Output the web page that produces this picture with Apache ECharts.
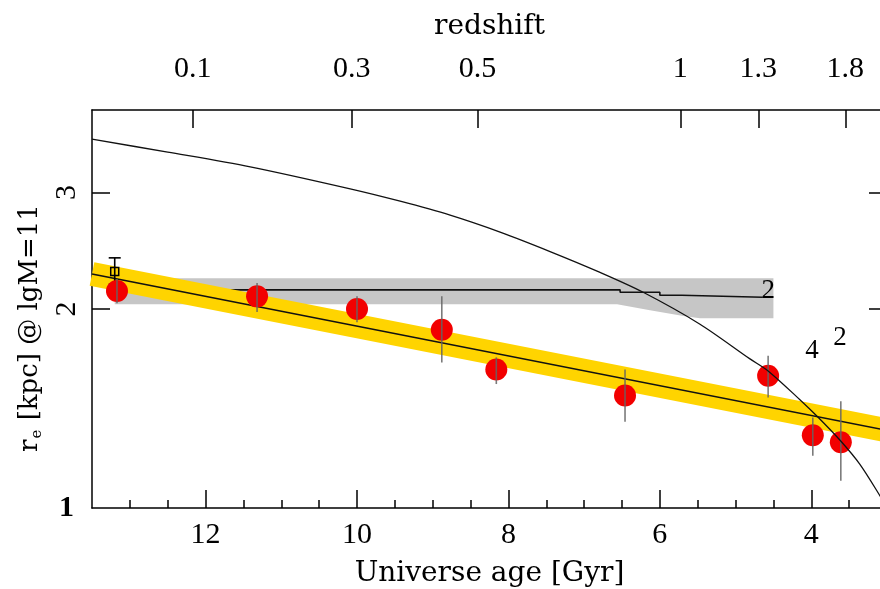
<!DOCTYPE html>
<html>
<head>
<meta charset="utf-8">
<script src="https://cdn.jsdelivr.net/npm/echarts@6/dist/echarts.min.js"></script>
<style>
  html, body { margin: 0; padding: 0; background: #fff; }
  #chart { width: 880px; height: 589px; }
</style>
</head>
<body>
<div id="chart"></div>
<script>
// ---- axis ranges and ticks ----
const AGE_MIN = 3.0, AGE_MAX = 13.5;       // Universe age [Gyr], drawn reversed
const RE_MIN = 1.0, RE_MAX = 4.0;          // r_e [kpc], logarithmic
const ageMajorTicks = [4, 6, 8, 10, 12];
const ageMinorTicks = [3.5, 4.5, 5, 5.5, 6.5, 7, 7.5, 8.5, 9, 9.5, 10.5, 11, 11.5, 12.5, 13];
const reTicks = [2, 3];
const redshiftLabels = ['0.1', '0.3', '0.5', '1', '1.3', '1.8'];
const redshiftAges = [12.17, 10.07, 8.41, 5.73, 4.70, 3.55];

// ---- measured sizes (red points) ----
const pointAge  = [13.17, 11.32, 10.0, 8.88, 8.16, 6.46, 4.57, 3.98, 3.61];
const pointRe   = [2.13, 2.09, 2.00, 1.86, 1.62, 1.48, 1.585, 1.288, 1.257];
const pointReHi = [2.22, 2.19, 2.09, 2.09, 1.69, 1.62, 1.70, 1.37, 1.45];
const pointReLo = [2.04, 1.98, 1.91, 1.66, 1.54, 1.35, 1.47, 1.20, 1.10];

// ---- local reference point (open square) ----
const localAge = [13.2];
const localRe = [2.28];
const localReHi = [2.39];
const localReLo = [2.18];

// ---- best-fit relation and its band ----
const fitAge = [13.5, 3.0];
const fitRe = [2.26, 1.31];

// ---- grey band and the stepped line inside it ----
const bandAge    = [13.2, 6.565, 6.13, 5.69, 5.47, 4.50];
const bandTop    = [2.226, 2.226, 2.226, 2.226, 2.226, 2.226];
const bandBottom = [2.034, 2.034, 1.992, 1.951, 1.937, 1.937];
const stepAge = [11.81, 6.525, 6.525, 6.0, 6.0, 5.71, 5.71, 4.64];
const stepRe  = [2.138, 2.138, 2.12, 2.12, 2.098, 2.098, 2.084, 2.084];

// ---- model curve ----
const curveAge = [13.5, 12.5, 11.41, 10.09, 9.43, 8.77, 8.11, 7.45, 6.79, 6.22, 5.47, 4.81, 4.57, 4.15, 3.92, 3.62, 3.36, 3.09, 3.0];
const curveRe  = [3.613, 3.454, 3.281, 3.039, 2.911, 2.773, 2.614, 2.443, 2.272, 2.120, 1.897, 1.681, 1.612, 1.458, 1.375, 1.266, 1.165, 1.042, 1.0];

// ---- small text labels inside the plot ----
const noteAge  = [4.57, 3.99, 3.62];
const noteRe   = [2.13, 1.73, 1.81];
const noteText = ['2', '4', '2'];

const LOG = Math.log10;
const FONT_NUM = 'Liberation Serif';
const FONT_TITLE = 'DejaVu Serif';
const BLACK = '#000';
const lineStyle = { color: BLACK, width: 1.5 };

const chart = echarts.init(document.getElementById('chart'), null, { renderer: 'canvas' });

const xBase = { type: 'value', min: AGE_MIN, max: AGE_MAX, inverse: true, splitLine: { show: false } };
const yBase = { type: 'value', min: LOG(RE_MIN), max: LOG(RE_MAX), splitLine: { show: false } };
const yTickVals = reTicks.map(LOG);

const option = {
  animation: false,
  backgroundColor: '#fff',
  // the right-hand frame sits just past the canvas edge
  grid: { left: 92, top: 110, right: -7, bottom: 81, containLabel: false, outerBoundsMode: 'none' },
  xAxis: [
    Object.assign({}, xBase, {
      position: 'bottom',
      axisLine: { show: true, onZero: false, lineStyle },
      axisTick: { show: true, inside: true, length: 18, lineStyle, customValues: ageMajorTicks },
      axisLabel: { show: true, customValues: ageMajorTicks, margin: 12, color: BLACK, fontFamily: FONT_NUM, fontSize: 30 },
      name: 'Universe age [Gyr]', nameLocation: 'middle', nameGap: 52,
      nameTextStyle: { fontFamily: FONT_TITLE, fontSize: 28, color: BLACK }
    }),
    Object.assign({}, xBase, {
      position: 'bottom',
      axisLine: { show: false, onZero: false },
      axisTick: { show: true, inside: true, length: 8, lineStyle, customValues: ageMinorTicks },
      axisLabel: { show: false }
    }),
    Object.assign({}, xBase, {
      position: 'top',
      axisLine: { show: true, onZero: false, lineStyle },
      axisTick: { show: true, inside: true, length: 18, lineStyle, customValues: redshiftAges },
      axisLabel: {
        show: true, customValues: redshiftAges, margin: 26, color: BLACK, fontFamily: FONT_NUM, fontSize: 30,
        formatter: v => redshiftLabels[redshiftAges.indexOf(v)]
      },
      name: 'redshift', nameLocation: 'middle', nameGap: 69,
      nameTextStyle: { fontFamily: FONT_TITLE, fontSize: 28, color: BLACK }
    })
  ],
  yAxis: [
    Object.assign({}, yBase, {
      position: 'left',
      axisLine: { show: true, onZero: false, lineStyle },
      axisTick: { show: true, inside: true, length: 18, lineStyle, customValues: yTickVals },
      axisLabel: {
        show: true, customValues: yTickVals, rotate: 90, margin: 10, color: BLACK,
        fontFamily: FONT_NUM, fontSize: 30,
        formatter: v => String(Math.round(Math.pow(10, v)))
      }
    }),
    Object.assign({}, yBase, {
      position: 'left',
      axisLine: { show: false, onZero: false },
      axisTick: { show: false },
      axisLabel: {
        show: true, customValues: [LOG(RE_MIN)], margin: 18, color: BLACK,
        fontFamily: FONT_NUM, fontSize: 30, fontWeight: 'bold',
        formatter: v => String(Math.round(Math.pow(10, v)))
      }
    }),
    Object.assign({}, yBase, {
      position: 'right',
      axisLine: { show: true, onZero: false, lineStyle },
      axisTick: { show: true, inside: true, length: 18, lineStyle, customValues: yTickVals },
      axisLabel: { show: false }
    })
  ],
  graphic: [{
    type: 'text',
    x: 30, y: 328,
    rotation: Math.PI / 2,
    style: {
      text: '{a|r}{b|e}{a| [kpc] @ lgM=11}',
      align: 'center', verticalAlign: 'middle',
      rich: {
        a: { fontFamily: FONT_TITLE, fontSize: 26, fill: BLACK, lineHeight: 30 },
        b: { fontFamily: FONT_TITLE, fontSize: 15, fill: BLACK, lineHeight: 30, verticalAlign: 'bottom', padding: [0, 1, 0, 1] }
      }
    }
  }],
  series: [
    // grey band
    {
      type: 'custom', xAxisIndex: 0, yAxisIndex: 0, z: 1, silent: true,
      data: bandAge.map((a, i) => [a, LOG(bandBottom[i]), LOG(bandTop[i])]),
      encode: { x: 0, y: [1, 2] },
      renderItem(params, api) {
        if (params.dataIndex !== 0) return null;
        const pts = [];
        bandAge.forEach((a, i) => pts.push(api.coord([a, LOG(bandTop[i])])));
        for (let i = bandAge.length - 1; i >= 0; i--) pts.push(api.coord([bandAge[i], LOG(bandBottom[i])]));
        return { type: 'polygon', shape: { points: pts }, style: { fill: '#c6c6c6' } };
      }
    },
    // stepped line inside the grey band
    {
      type: 'line', xAxisIndex: 0, yAxisIndex: 0, z: 2, symbol: 'none', silent: true,
      data: stepAge.map((a, i) => [a, LOG(stepRe[i])]),
      lineStyle: { color: '#111', width: 1.6 }
    },
    // yellow band around the fit
    {
      type: 'line', xAxisIndex: 0, yAxisIndex: 0, z: 3, symbol: 'none', silent: true,
      data: fitAge.map((a, i) => [a, LOG(fitRe[i])]),
      lineStyle: { color: '#ffd400', width: 24, cap: 'butt' }
    },
    // fit line
    {
      type: 'line', xAxisIndex: 0, yAxisIndex: 0, z: 4, symbol: 'none', silent: true,
      data: fitAge.map((a, i) => [a, LOG(fitRe[i])]),
      lineStyle: { color: '#111', width: 1.5 }
    },
    // local point error bar (with caps)
    {
      type: 'custom', xAxisIndex: 0, yAxisIndex: 0, z: 5, silent: true,
      data: localAge.map((a, i) => [a, LOG(localReLo[i]), LOG(localReHi[i])]),
      encode: { x: 0, y: [1, 2] },
      renderItem(params, api) {
        const hi = api.coord([api.value(0), api.value(2)]);
        const lo = api.coord([api.value(0), api.value(1)]);
        const st = { stroke: BLACK, lineWidth: 1.6 };
        return {
          type: 'group', children: [
            { type: 'line', shape: { x1: hi[0], y1: hi[1], x2: lo[0], y2: lo[1] }, style: st },
            { type: 'line', shape: { x1: hi[0] - 6, y1: hi[1], x2: hi[0] + 6, y2: hi[1] }, style: st },
            { type: 'line', shape: { x1: lo[0] - 6, y1: lo[1], x2: lo[0] + 6, y2: lo[1] }, style: st }
          ]
        };
      }
    },
    // local point (open square)
    {
      type: 'scatter', xAxisIndex: 0, yAxisIndex: 0, z: 6, silent: true,
      symbol: 'rect', symbolSize: 8,
      data: localAge.map((a, i) => [a, LOG(localRe[i])]),
      itemStyle: { color: 'rgba(0,0,0,0)', borderColor: BLACK, borderWidth: 1.5, opacity: 1 }
    },
    // red points
    {
      type: 'scatter', xAxisIndex: 0, yAxisIndex: 0, z: 7, silent: true,
      symbol: 'circle', symbolSize: 22,
      data: pointAge.map((a, i) => [a, LOG(pointRe[i])]),
      itemStyle: { color: '#f20000', opacity: 1 }
    },
    // error bars of red points
    {
      type: 'custom', xAxisIndex: 0, yAxisIndex: 0, z: 8, silent: true,
      data: pointAge.map((a, i) => [a, LOG(pointReLo[i]), LOG(pointReHi[i])]),
      encode: { x: 0, y: [1, 2] },
      renderItem(params, api) {
        const hi = api.coord([api.value(0), api.value(2)]);
        const lo = api.coord([api.value(0), api.value(1)]);
        return { type: 'line', shape: { x1: hi[0], y1: hi[1], x2: lo[0], y2: lo[1] },
                 style: { stroke: 'rgba(100,100,100,0.85)', lineWidth: 1.6 } };
      }
    },
    // model curve
    {
      type: 'line', xAxisIndex: 0, yAxisIndex: 0, z: 9, symbol: 'none', silent: true, smooth: 0.3,
      data: curveAge.map((a, i) => [a, LOG(curveRe[i])]),
      lineStyle: { color: '#111', width: 1.3 }
    },
    // text notes
    {
      type: 'scatter', xAxisIndex: 0, yAxisIndex: 0, z: 10, silent: true,
      symbolSize: 0,
      data: noteAge.map((a, i) => ({ value: [a, LOG(noteRe[i])], name: noteText[i] })),
      itemStyle: { opacity: 1 },
      label: {
        show: true, position: 'inside', formatter: p => p.name,
        color: BLACK, fontFamily: FONT_NUM, fontSize: 27
      }
    }
  ]
};

chart.setOption(option);
</script>
</body>
</html>
